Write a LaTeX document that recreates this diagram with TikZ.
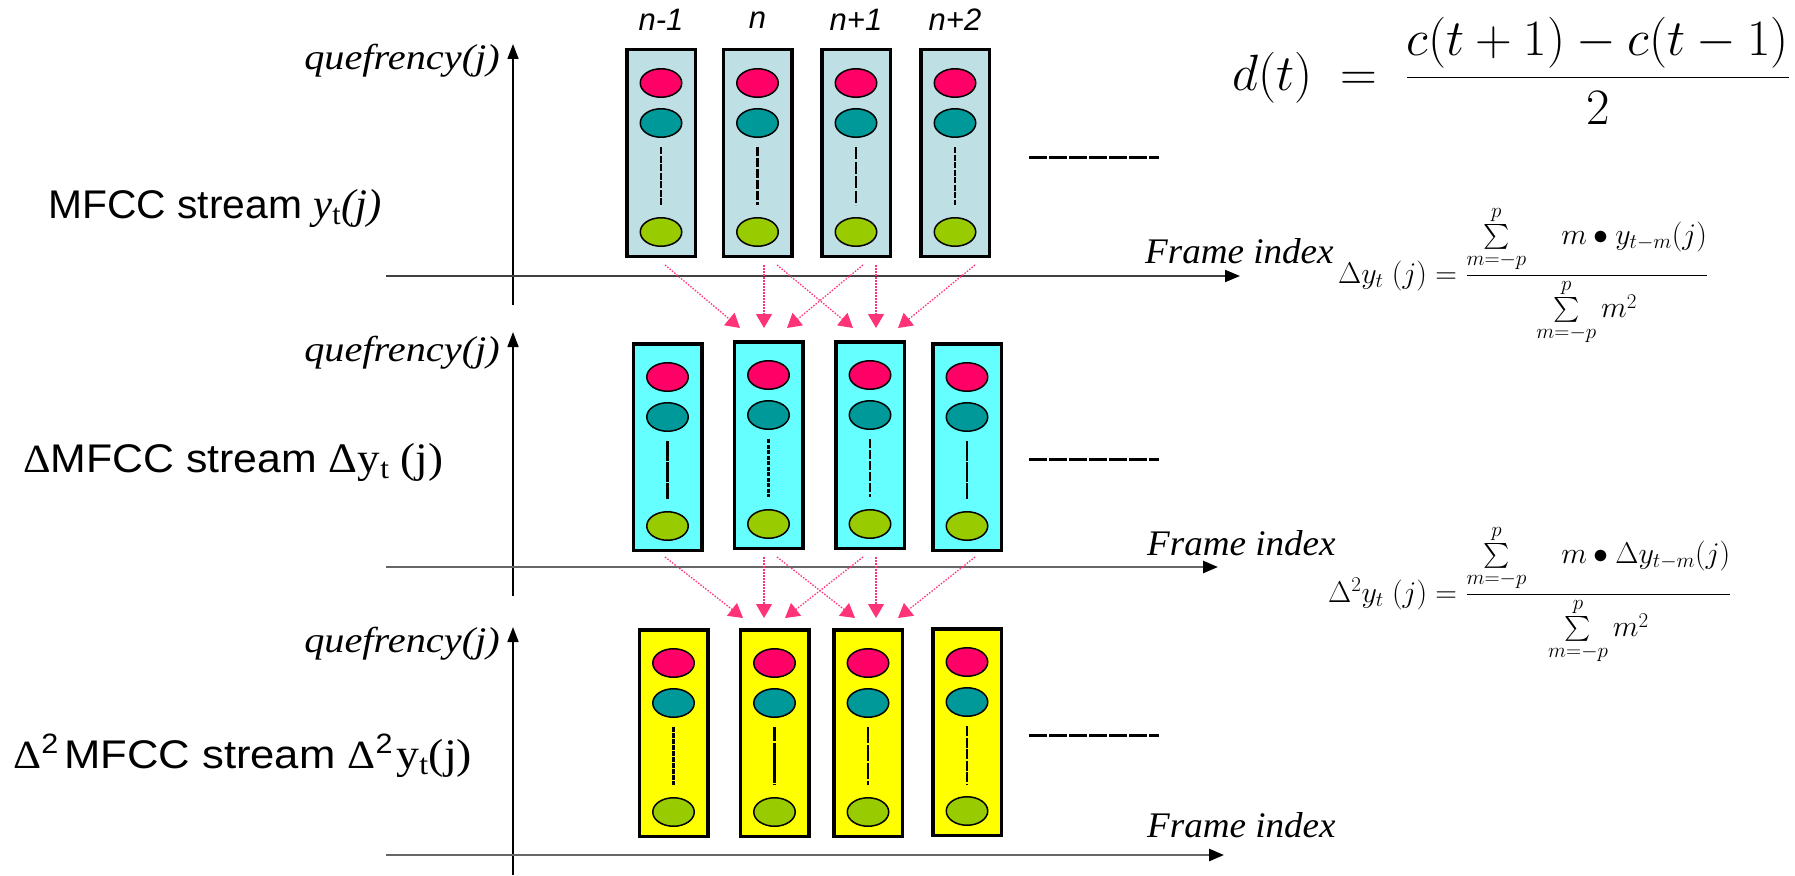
\RequirePackage{fix-cm}
\documentclass[tikz,border=0pt]{standalone}
\usepackage{amsmath}
\usepackage{fontspec}
\setmainfont{Liberation Serif}
\setsansfont{Liberation Sans}
\usetikzlibrary{arrows.meta,calc,shapes.geometric}

\definecolor{frameblue}{RGB}{190,223,228}
\definecolor{framecyan}{RGB}{102,255,255}
\definecolor{frameyellow}{RGB}{255,255,0}
\definecolor{dotred}{RGB}{255,0,102}
\definecolor{dotteal}{RGB}{0,153,153}
\definecolor{dotgreen}{RGB}{153,204,0}
\definecolor{linkpink}{RGB}{255,51,119}

% one frame column: box, three coefficient dots and the dashed gap
\newcommand\framecol[5]{%
  \node[framebox, fill=#4] (#1) at (#2,#3) {};
  \node[coef, fill=dotred]   (#1a) at ($(#1.center)+(0,-70)$) {};
  \node[coef, fill=dotteal]  (#1b) at ($(#1.center)+(0,-30)$) {};
  \node[coef, fill=dotgreen] (#1c) at ($(#1.center)+(0,79)$) {};
  \draw[coefdash, dash pattern=#5] ($(#1.center)+(0,-6)$) -- ($(#1.center)+(0,52)$);
}

\begin{document}
\begin{tikzpicture}[x=1pt,y=-1pt,
  framebox/.style={draw=black, line width=3.5pt, minimum width=68.5pt,
    minimum height=206.5pt, inner sep=0pt},
  coef/.style={ellipse, draw=black, line width=1.5pt, minimum width=41.5pt,
    minimum height=28.5pt, inner sep=0pt},
  coefdash/.style={draw=black, line width=2.5pt},
  link/.style={draw=linkpink, line width=1.3pt, dash pattern=on 1.5pt off 1.5pt,
    -{Triangle[length=14pt,width=16pt]}},
  yaxis/.style={draw=black, line width=1.6pt, -{Triangle[length=15pt,width=11pt]}},
  xaxis/.style={draw=black!60, line width=2.6pt,
    -{Triangle[length=15pt,width=12pt,color=black]}},
  etc/.style={draw=black, line width=3pt, dash pattern=on 18pt off 2pt},
  qlabel/.style={font=\fontsize{36}{40}\selectfont\itshape, inner sep=0pt},
  slabel/.style={font=\fontsize{40}{46}\selectfont\sffamily, inner sep=0pt},
  nlabel/.style={font=\fontsize{31}{36}\selectfont\sffamily\itshape, inner sep=0pt},
  formula/.style={inner sep=0pt, anchor=base west}
]
\useasboundingbox (0,0) rectangle (1795,875);

% ---------- axes ----------
\draw[yaxis] (513,305) -- (513,44);
\draw[xaxis, draw=black!75, line width=2pt] (386,276) -- (1240,276);
\draw[yaxis] (513,596) -- (513,332);
\draw[xaxis] (386,567) -- (1218,567);
\draw[yaxis] (513,875) -- (513,627);
\draw[xaxis] (386,855) -- (1224,855);

\node[qlabel, xscale=1.12, anchor=base east] (q1) at (500,70) {quefrency(j)};
\node[qlabel, xscale=1.12, anchor=base east] (q2) at (500,361) {quefrency(j)};
\node[qlabel, xscale=1.12, anchor=base east] (q3) at (500,652) {quefrency(j)};

\node[qlabel, xscale=1.03, anchor=base west] (fi1) at (1145,263) {Frame index};
\node[qlabel, xscale=1.03, anchor=base west] (fi2) at (1147,555) {Frame index};
\node[qlabel, xscale=1.03, anchor=base west] (fi3) at (1147,837) {Frame index};

% ---------- stream labels ----------
\node[slabel, xscale=1.02, anchor=base west] (s1) at (48,218)
  {MFCC stream {\rmfamily\fontsize{42}{46}\selectfont\itshape y\textsubscript{\upshape t}(j)}};
\node[slabel, xscale=1.07, anchor=base west] (s2) at (23,472)
  {{\rmfamily Δ}MFCC stream {\rmfamily\fontsize{42}{46}\selectfont Δy\textsubscript{t} (j)}};
\node[slabel, xscale=1.09, anchor=base west] (s3) at (13,768)
  {{\rmfamily Δ}\textsuperscript{2}\hspace{5pt}MFCC stream
   {\rmfamily Δ}\textsuperscript{2}\hspace{3pt}{\rmfamily\fontsize{42}{46}\selectfont y\textsubscript{t}(j)}};

% ---------- frame labels ----------
\node[nlabel] (n1) at (661,20) {n-1};
\node[nlabel] (n2) at (757.5,20) {n};
\node[nlabel] (n3) at (856,20) {n+1};
\node[nlabel] (n4) at (955,20) {n+2};

% ---------- frame columns ----------
\framecol{A1}{661}{153}{frameblue}{on 7pt off 1.5pt}
\framecol{A2}{757.5}{153}{frameblue}{on 9pt off 2pt}
\framecol{A3}{856}{153}{frameblue}{on 12pt off 2.5pt}
\framecol{A4}{955}{153}{frameblue}{on 6pt off 1.5pt}

\framecol{B1}{667.5}{447}{framecyan}{on 20pt off 1pt}
\framecol{B2}{768.5}{445}{framecyan}{on 4pt off 1.5pt}
\framecol{B3}{870}{445}{framecyan}{on 9pt off 2pt}
\framecol{B4}{967}{447}{framecyan}{on 20pt off 1pt}

\framecol{C1}{673.5}{733}{frameyellow}{on 5pt off 1pt}
\framecol{C2}{774.5}{733}{frameyellow}{on 14pt off 2pt on 40pt off 1pt}
\framecol{C3}{868}{733}{frameyellow}{on 16pt off 2pt}
\framecol{C4}{967}{732}{frameyellow}{on 10pt off 1.5pt}

% ---------- continuation marks ----------
\draw[etc] (1029,157) -- (1159,157);
\draw[etc] (1029,459) -- (1159,459);
\draw[etc] (1029,735) -- (1159,735);

% ---------- delta links, top row to middle row ----------
\coordinate (u1) at (665,265);  \coordinate (u2) at (764,265);
\coordinate (u2r) at (777,265); \coordinate (u3) at (863,265);
\coordinate (u3r) at (876,265); \coordinate (u4) at (975,265);
\coordinate (v2l) at (740,328); \coordinate (v2) at (764,328);
\coordinate (v2r) at (787,328); \coordinate (v3l) at (853,328);
\coordinate (v3) at (876,328);  \coordinate (v3r) at (898,328);
\draw[link] (u1) -- (v2l);  \draw[link] (u2) -- (v2);  \draw[link] (u3) -- (v2r);
\draw[link] (u2r) -- (v3l); \draw[link] (u3r) -- (v3); \draw[link] (u4) -- (v3r);

% ---------- delta links, middle row to bottom row ----------
\coordinate (w1) at (665,557);  \coordinate (w2) at (764,557);
\coordinate (w2r) at (777,557); \coordinate (w3) at (863,557);
\coordinate (w3r) at (876,557); \coordinate (w4) at (975,557);
\coordinate (z2l) at (743,618); \coordinate (z2) at (764,618);
\coordinate (z2r) at (785,618); \coordinate (z3l) at (855,618);
\coordinate (z3) at (876,618);  \coordinate (z3r) at (898,618);
\draw[link] (w1) -- (z2l);  \draw[link] (w2) -- (z2);  \draw[link] (w3) -- (z2r);
\draw[link] (w2r) -- (z3l); \draw[link] (w3r) -- (z3); \draw[link] (w4) -- (z3r);

% ---------- formulas ----------
\node[formula, font=\fontsize{51}{60}\selectfont] (fd) at (1232,90)
  {$d(t)\;=\;\dfrac{c(t+1)-c(t-1)}{2}$};
\node[formula, font=\fontsize{30}{36}\selectfont] (f1) at (1338,283)
  {$\Delta y_{t}\;(j)=\dfrac{\sum\limits_{m=-p}^{p}\quad m\bullet y_{t-m}(j)}{\sum\limits_{m=-p}^{p} m^{2}\rule[-6pt]{0pt}{0pt}}$};
\node[formula, font=\fontsize{30}{36}\selectfont] (f2) at (1328,602)
  {$\Delta^{2} y_{t}\;(j)=\dfrac{\sum\limits_{m=-p}^{p}\quad m\bullet \Delta y_{t-m}(j)}{\sum\limits_{m=-p}^{p} m^{2}\rule[-6pt]{0pt}{0pt}}$};
\end{tikzpicture}
\end{document}
